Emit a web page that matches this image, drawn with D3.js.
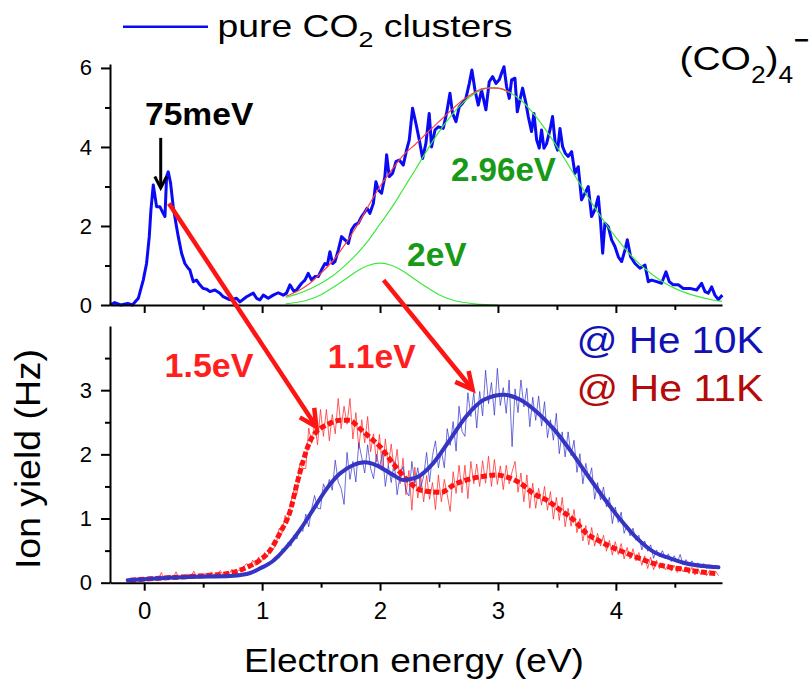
<!DOCTYPE html>
<html>
<head>
<meta charset="utf-8">
<title>(CO2)4- ion yield vs electron energy</title>
<script src="https://cdn.jsdelivr.net/npm/d3@7/dist/d3.min.js"></script>
<style>
  html, body { margin: 0; padding: 0; background: #fff; }
  svg { display: block; }
  text { font-family: "Liberation Sans", Arial, Helvetica, sans-serif; white-space: pre; }
</style>
</head>
<body>
<svg id="chart" width="811" height="681"></svg>
<script>
// ---------- axis ticks ----------
const energyTicks = [0, 1, 2, 3, 4];
const energyMinorTicks = [0.5, 1.5, 2.5, 3.5, 4.5];
const topYieldTicks = [0, 2, 4, 6];
const topYieldMinorTicks = [1, 3, 5];
const bottomYieldTicks = [0, 1, 2, 3];
const bottomYieldMinorTicks = [0.5, 1.5, 2.5, 3.5];

// ---------- upper panel: pure CO2 clusters ----------
const pureEnergy = [-0.29,-0.25,-0.2,-0.14,-0.1,-0.05,-0.008,0.02,0.043,0.057,0.077,0.105,0.133,0.161,0.176,0.19,0.204,0.224,0.246,0.269,0.289,0.317,0.345,0.373,0.387,0.416,0.444,0.472,0.5,0.53,0.557,0.6,0.642,0.67,0.727,0.783,0.812,0.868,0.925,0.953,0.981,1.01,1.052,1.094,1.137,1.179,1.207,1.236,1.27,1.292,1.335,1.363,1.391,1.42,1.448,1.476,1.504,1.533,1.553,1.575,1.598,1.618,1.646,1.674,1.702,1.731,1.759,1.787,1.815,1.844,1.872,1.89,1.914,1.943,1.965,1.985,2.013,2.041,2.056,2.078,2.106,2.135,2.163,2.197,2.225,2.248,2.276,2.304,2.333,2.361,2.389,2.417,2.437,2.466,2.494,2.536,2.564,2.593,2.615,2.644,2.672,2.7,2.728,2.757,2.779,2.805,2.833,2.861,2.898,2.926,2.955,2.983,3.011,3.031,3.051,3.073,3.096,3.116,3.144,3.164,3.186,3.209,3.237,3.257,3.285,3.305,3.328,3.35,3.37,3.39,3.413,3.441,3.463,3.486,3.506,3.526,3.548,3.571,3.596,3.625,3.653,3.681,3.709,3.738,3.766,3.794,3.822,3.851,3.871,3.888,3.907,3.936,3.964,3.992,4.021,4.049,4.077,4.097,4.125,4.162,4.204,4.247,4.275,4.303,4.346,4.388,4.425,4.453,4.487,4.529,4.572,4.628,4.685,4.727,4.756,4.784,4.812,4.84,4.869,4.903];
const pureYield = [0.0,0.06,0.0,0.04,0.0,0.17,0.63,1.05,1.73,2.4,3.04,2.49,2.49,2.32,2.24,3.25,3.37,3.08,2.49,2.07,1.73,1.31,1.05,0.93,0.89,0.59,0.63,0.51,0.42,0.40,0.34,0.38,0.30,0.21,0.13,0.17,0.08,0.21,0.30,0.17,0.13,0.25,0.17,0.25,0.31,0.25,0.30,0.51,0.34,0.38,0.55,0.63,0.80,0.63,0.72,0.72,0.89,1.05,1.01,1.35,1.05,1.10,1.39,1.73,1.65,1.56,1.90,2.03,2.07,2.24,2.36,2.45,2.32,2.57,3.12,2.91,2.83,3.25,3.80,3.25,3.33,3.63,3.67,3.54,3.92,4.18,4.98,4.60,4.18,3.71,4.09,4.85,4.00,4.43,4.51,4.47,4.85,5.36,4.85,4.64,5.02,5.11,5.23,5.61,5.95,5.44,5.06,5.44,4.94,5.65,5.78,5.61,5.70,5.87,6.03,5.53,5.23,5.70,5.74,4.89,5.19,5.49,5.11,4.77,4.39,4.85,4.18,3.97,4.43,3.97,4.09,4.43,4.77,4.09,3.92,4.47,4.01,3.84,3.76,3.88,3.33,3.50,2.66,2.83,3.00,2.24,2.41,2.74,2.07,1.31,2.07,1.98,1.65,1.48,1.22,1.10,1.39,1.65,1.22,1.05,0.93,1.01,0.59,0.63,0.59,0.55,0.84,0.59,0.51,0.51,0.42,0.42,0.38,0.55,0.34,0.30,0.46,0.25,0.14,0.25];

// Gaussian components of the fit (centres 2.96 eV and 2 eV) and their sum
const highPeakEnergy = [1.2,1.3,1.4,1.5,1.6,1.7,1.8,1.9,2.0,2.1,2.2,2.3,2.4,2.5,2.6,2.7,2.8,2.9,2.96,3.0,3.1,3.2,3.3,3.4,3.5,3.6,3.7,3.8,3.9,4.0,4.1,4.2,4.3,4.4,4.5,4.6,4.7,4.8,4.9];
const highPeakYield = [0.19,0.28,0.40,0.55,0.74,0.99,1.28,1.63,2.05,2.47,2.95,3.43,3.92,4.38,4.78,5.11,5.35,5.48,5.50,5.49,5.38,5.17,4.85,4.46,4.01,3.53,3.04,2.56,2.12,1.71,1.35,1.04,0.79,0.58,0.42,0.30,0.21,0.14,0.09];
const lowPeakEnergy = [1.2,1.3,1.4,1.5,1.6,1.7,1.8,1.9,2.0,2.1,2.2,2.3,2.4,2.5,2.6,2.7,2.8,2.9,3.0];
const lowPeakYield = [0.03,0.07,0.14,0.26,0.44,0.64,0.85,1.00,1.06,1.00,0.85,0.64,0.44,0.26,0.14,0.07,0.03,0.01,0.00];
const sumFitEnergy = [1.2,1.3,1.4,1.5,1.6,1.7,1.8,1.9,2.0,2.1,2.2,2.3,2.4,2.5,2.6,2.7,2.8,2.9,3.0,3.1];
const sumFitYield = [0.22,0.35,0.54,0.81,1.12,1.52,1.98,2.50,3.00,3.42,3.80,4.07,4.36,4.64,4.92,5.18,5.38,5.49,5.49,5.38];

// ---------- lower panel: clusters in He droplets ----------
const scanStart = -0.13;   // eV, first channel of the energy scan
const scanStep = 0.025;    // eV per channel
const he10kYield = [0.05,0.03,0.06,0.04,0.07,0.04,0.06,0.08,0.05,0.07,
  0.09,0.06,0.08,0.10,0.07,0.09,0.06,0.10,0.08,0.11,
  0.08,0.10,0.12,0.08,0.11,0.09,0.12,0.08,0.10,0.13,
  0.09,0.11,0.12,0.09,0.13,0.10,0.12,0.14,0.11,0.15,
  0.13,0.17,0.15,0.21,0.19,0.26,0.23,0.31,0.30,0.38,
  0.42,0.39,0.53,0.49,0.63,0.57,0.74,0.68,0.86,0.80,
  1.07,0.87,1.15,1.36,1.16,1.15,1.54,1.42,1.61,1.44,
  1.91,1.57,1.47,1.22,2.03,1.61,1.89,1.57,2.18,1.95,
  1.71,2.15,1.78,1.62,2.00,1.78,2.03,1.50,1.83,1.56,
  1.89,1.37,1.68,1.81,1.43,1.35,1.89,1.55,1.79,1.48,
  1.66,2.03,1.57,1.98,2.21,1.79,2.06,1.79,2.40,2.14,
  2.51,2.05,2.75,2.36,2.28,2.96,2.59,2.96,2.41,2.98,
  2.60,3.31,2.79,3.12,2.61,3.34,2.76,3.04,2.64,3.16,
  2.12,3.02,2.65,3.16,2.74,3.03,2.43,2.89,2.53,2.91,
  2.44,2.82,2.26,2.54,2.22,2.64,2.01,2.35,1.96,2.35,
  1.98,2.22,1.72,2.01,1.54,1.86,1.61,1.79,1.30,1.56,
  1.29,1.49,1.18,1.33,0.92,1.18,0.94,1.10,0.77,0.90,
  0.73,0.85,0.66,0.74,0.51,0.65,0.49,0.59,0.38,0.51,
  0.40,0.50,0.37,0.45,0.33,0.42,0.31,0.44,0.28,0.36,
  0.27,0.34,0.26,0.31,0.23,0.30,0.22,0.28,0.24,0.27,0.23];
const he11kYield = [0.03,0.06,0.02,0.07,0.04,0.08,0.03,0.07,0.05,0.09,
  0.05,0.16,0.06,0.09,0.12,0.07,0.17,0.06,0.11,0.08,
  0.14,0.09,0.18,0.10,0.13,0.08,0.15,0.11,0.17,0.10,
  0.14,0.19,0.12,0.17,0.14,0.21,0.15,0.20,0.18,0.25,
  0.30,0.22,0.35,0.27,0.40,0.33,0.47,0.40,0.55,0.52,
  0.61,0.85,0.78,1.05,0.97,1.26,1.45,1.38,1.86,1.78,
  1.78,2.41,2.17,2.49,2.15,2.70,2.28,2.70,2.21,2.62,
  2.32,2.87,2.40,2.75,2.47,2.87,2.24,2.65,2.09,2.54,
  2.18,2.59,2.04,2.32,1.88,2.31,1.75,2.24,1.83,2.16,
  1.74,2.08,1.54,1.94,1.37,1.75,1.13,1.80,1.32,1.65,
  1.26,1.67,1.30,1.56,1.14,1.68,1.26,1.61,1.37,1.11,
  1.73,1.39,1.83,1.40,1.83,1.31,1.89,1.54,1.85,1.50,
  1.90,1.55,1.97,1.50,1.92,1.53,1.82,1.45,1.83,1.54,
  1.73,1.89,1.41,1.71,1.26,1.68,1.16,1.55,1.16,1.47,
  1.21,1.50,1.13,1.42,0.99,1.33,0.97,1.33,0.87,1.16,
  0.88,1.14,0.78,1.00,0.65,0.89,0.59,0.86,0.57,0.77,
  0.57,0.74,0.49,0.66,0.43,0.64,0.44,0.61,0.37,0.55,
  0.37,0.53,0.34,0.47,0.27,0.42,0.22,0.40,0.20,0.35,
  0.22,0.31,0.20,0.29,0.18,0.27,0.16,0.26,0.17,0.25,
  0.14,0.24,0.12,0.22,0.13,0.20,0.11,0.19,0.12,0.18,0.11];

// fitted curve of the 10 K data and smoothed 11 K data
const he10kFitEnergy = [-0.14,0.13,0.42,0.70,0.87,0.98,1.10,1.21,1.32,1.43,1.55,1.66,1.77,1.87,1.97,2.11,2.20,2.31,2.45,2.59,2.73,2.88,3.05,3.19,3.33,3.47,3.61,3.75,3.89,4.04,4.18,4.32,4.46,4.60,4.74,4.87];
const he10kFitYield = [0.04,0.07,0.094,0.10,0.135,0.22,0.35,0.56,0.82,1.13,1.47,1.70,1.83,1.875,1.83,1.68,1.60,1.64,1.86,2.22,2.59,2.85,2.93,2.85,2.66,2.40,2.07,1.70,1.34,0.98,0.69,0.48,0.38,0.30,0.26,0.24];
const he11kSmoothEnergy = [-0.12,0.13,0.42,0.70,0.87,0.98,1.07,1.15,1.24,1.29,1.35,1.41,1.46,1.55,1.66,1.74,1.83,1.91,2.00,2.11,2.22,2.35,2.52,2.62,2.73,2.85,2.99,3.07,3.19,3.30,3.41,3.53,3.64,3.75,3.87,3.98,4.09,4.20,4.32,4.43,4.57,4.71,4.86];
const he11kSmoothYield = [0.04,0.07,0.10,0.14,0.24,0.35,0.51,0.77,1.13,1.50,1.91,2.22,2.35,2.46,2.53,2.53,2.40,2.27,2.12,1.86,1.62,1.44,1.41,1.52,1.60,1.65,1.68,1.65,1.55,1.39,1.29,1.13,0.98,0.77,0.64,0.54,0.46,0.38,0.30,0.25,0.21,0.17,0.14];

// ---------- annotations (energy in eV, yield in each panel's units) ----------
const peakArrow = { energy: 0.14, from: 4.23, to: 2.96 };
const shiftArrows = [
  { fromEnergy: 0.21, fromYield: 2.57, toEnergy: 1.46, toYield: 2.43 },
  { fromEnergy: 2.03, fromYield: 0.63, toEnergy: 2.785, toYield: 3.01 }
];

// ---------- scales ----------
const svg = d3.select("#chart");
const x = d3.scaleLinear().domain([-0.29, 4.9]).range([110, 722]);
const yTop = d3.scaleLinear().domain([0, 6.1]).range([305, 64]);
const yBot = d3.scaleLinear().domain([0, 4]).range([582.7, 326]);

const zip = (xs, ys) => xs.map((e, i) => [e, ys[i]]);
const scan = ys => ys.map((v, i) => [scanStart + i * scanStep, v]);

// ---------- axes ----------
function styleAxis(g, fontSize) {
  g.attr("font-family", null).attr("font-size", null);
  g.select(".domain").attr("stroke", "#000").attr("stroke-width", 2);
  g.selectAll(".tick line").attr("stroke", "#000").attr("stroke-width", 2);
  g.selectAll(".tick text").attr("fill", "#000").style("font-size", fontSize + "px");
}
function drawPanelAxes(yScale, yMajor, yMinor, showEnergyLabels) {
  const base = yScale(0);
  svg.append("g").attr("transform", `translate(0,${base})`)
    .call(d3.axisBottom(x).tickValues(energyMinorTicks).tickSize(5).tickSizeOuter(0).tickFormat(""))
    .call(g => { styleAxis(g, 24); g.select(".domain").remove(); });
  svg.append("g").attr("transform", `translate(0,${base})`)
    .call(d3.axisBottom(x).tickValues(energyTicks).tickSize(8).tickPadding(11).tickSizeOuter(0)
      .tickFormat(showEnergyLabels ? d3.format("d") : ""))
    .call(g => styleAxis(g, 24));
  svg.append("g").attr("transform", `translate(${x.range()[0]},0)`)
    .call(d3.axisLeft(yScale).tickValues(yMinor).tickSize(5).tickSizeOuter(0).tickFormat(""))
    .call(g => { styleAxis(g, 22); g.select(".domain").remove(); });
  svg.append("g").attr("transform", `translate(${x.range()[0]},0)`)
    .call(d3.axisLeft(yScale).tickValues(yMajor).tickSize(9).tickPadding(9).tickSizeOuter(0)
      .tickFormat(d3.format("d")))
    .call(g => styleAxis(g, 22));
}

// ---------- upper panel ----------
const lineTop = d3.line().x(d => x(d[0])).y(d => yTop(d[1]));
const smoothTop = d3.line().x(d => x(d[0])).y(d => yTop(d[1])).curve(d3.curveMonotoneX);

svg.append("path").datum(zip(pureEnergy, pureYield))
  .attr("d", lineTop).attr("fill", "none").attr("stroke", "#0a0af5")
  .attr("stroke-width", 3).attr("stroke-linejoin", "round");
svg.append("path").datum(zip(highPeakEnergy, highPeakYield))
  .attr("d", smoothTop).attr("fill", "none").attr("stroke", "#3ee83e").attr("stroke-width", 1.2);
svg.append("path").datum(zip(lowPeakEnergy, lowPeakYield))
  .attr("d", smoothTop).attr("fill", "none").attr("stroke", "#3ee83e").attr("stroke-width", 1.2);
svg.append("path").datum(zip(sumFitEnergy, sumFitYield))
  .attr("d", smoothTop).attr("fill", "none").attr("stroke", "#ff4040").attr("stroke-width", 1.2);

drawPanelAxes(yTop, topYieldTicks, topYieldMinorTicks, false);

// ---------- lower panel ----------
const lineBot = d3.line().x(d => x(d[0])).y(d => yBot(d[1]));
const smoothBot = d3.line().x(d => x(d[0])).y(d => yBot(d[1])).curve(d3.curveMonotoneX);

svg.append("path").datum(scan(he11kYield))
  .attr("d", lineBot).attr("fill", "none").attr("stroke", "#ff2a2a")
  .attr("stroke-opacity", 0.75).attr("stroke-width", 1);
svg.append("path").datum(scan(he10kYield))
  .attr("d", lineBot).attr("fill", "none").attr("stroke", "#3030cc")
  .attr("stroke-opacity", 0.7).attr("stroke-width", 1);
svg.append("path").datum(zip(he11kSmoothEnergy, he11kSmoothYield))
  .attr("d", smoothBot).attr("fill", "none").attr("stroke", "#ff1212")
  .attr("stroke-width", 5).attr("stroke-dasharray", "6 2.5");
svg.append("path").datum(zip(he10kFitEnergy, he10kFitYield))
  .attr("d", smoothBot).attr("fill", "none").attr("stroke", "#3535c4")
  .attr("stroke-width", 4).attr("stroke-linecap", "round");

drawPanelAxes(yBot, bottomYieldTicks, bottomYieldMinorTicks, true);

// ---------- arrows ----------
function arrow(p0, p1, color, width, head, spread) {
  svg.append("line").attr("x1", p0[0]).attr("y1", p0[1]).attr("x2", p1[0]).attr("y2", p1[1])
    .attr("stroke", color).attr("stroke-width", width);
  const ang = Math.atan2(p1[1] - p0[1], p1[0] - p0[0]);
  const back = ang + Math.PI;
  const arm = a => [p1[0] + head * Math.cos(a), p1[1] + head * Math.sin(a)];
  svg.append("path").attr("d", d3.line()([arm(back - spread), p1, arm(back + spread)]))
    .attr("fill", "none").attr("stroke", color).attr("stroke-width", width)
    .attr("stroke-linejoin", "miter").attr("stroke-miterlimit", 10);
}
const rad = deg => deg * Math.PI / 180;
arrow([x(peakArrow.energy), yTop(peakArrow.from)], [x(peakArrow.energy), yTop(peakArrow.to)],
  "#000", 3, 13, rad(27));
shiftArrows.forEach(a => arrow([x(a.fromEnergy), yTop(a.fromYield)], [x(a.toEnergy), yBot(a.toYield)],
  "#ff1414", 4.5, 19, rad(27)));

// ---------- text ----------
function fitWidth(sel, anchorX, target) {
  const w = sel.node().getBBox().width;
  const s = target / w;
  sel.attr("transform", `translate(${anchorX * (1 - s)},0) scale(${s},1)`);
}
function label(str, px, py, size, weight, fill, target) {
  const t = svg.append("text").attr("x", px).attr("y", py)
    .style("font-size", size + "px").style("font-weight", weight).attr("fill", fill).text(str);
  if (target) fitWidth(t, px, target);
  return t;
}

// legend
svg.append("line").attr("x1", 123).attr("x2", 208).attr("y1", 26.7).attr("y2", 26.7)
  .attr("stroke", "#0a0af5").attr("stroke-width", 2.5);
const legendText = svg.append("text").attr("x", 217.5).attr("y", 37)
  .style("font-size", "30.5px").attr("fill", "#000");
legendText.append("tspan").text("pure CO");
legendText.append("tspan").attr("dy", 10).style("font-size", "22px").text("2");
legendText.append("tspan").attr("dy", -10).text(" clusters");
fitWidth(legendText, 217.5, 295);

// species
const species = svg.append("text").attr("x", 679.5).attr("y", 70)
  .style("font-size", "34px").attr("fill", "#000");
species.append("tspan").text("(CO");
species.append("tspan").attr("dy", 13).style("font-size", "23px").text("2");
species.append("tspan").attr("dy", -13).text(")");
species.append("tspan").attr("dy", 13).style("font-size", "23px").text("4");
fitWidth(species, 679.5, 114);
label("\u2212", 794, 48, 24, "bold", "#000", 15);

// peak labels
label("75meV", 145, 125, 32, "bold", "#000", 109);
label("2.96eV", 451, 180.7, 33, "bold", "#179a17", 105);
label("2eV", 407, 266, 32.5, "bold", "#179a17", 60);
label("1.5eV", 164.5, 377.3, 33, "bold", "#ff1f1f", 89);
label("1.1eV", 327.7, 368.3, 33, "bold", "#ff1f1f", 88);

// condition labels
label("@ He 10K", 576.5, 352.7, 36.5, "normal", "#1212b4", 187);
label("@ He 11K", 576.5, 401, 36.5, "normal", "#b40a0a", 187);

// axis titles
label("Electron energy (eV)", 244, 672.3, 33.5, "normal", "#000", 340);
const yTitleGroup = svg.append("g").attr("transform", "translate(40,569) rotate(-90)");
const yTitle = yTitleGroup.append("text").attr("x", 0).attr("y", 0)
  .style("font-size", "35px").attr("fill", "#000").text("Ion yield (Hz)");
fitWidth(yTitle, 0, 220);
</script>
</body>
</html>
